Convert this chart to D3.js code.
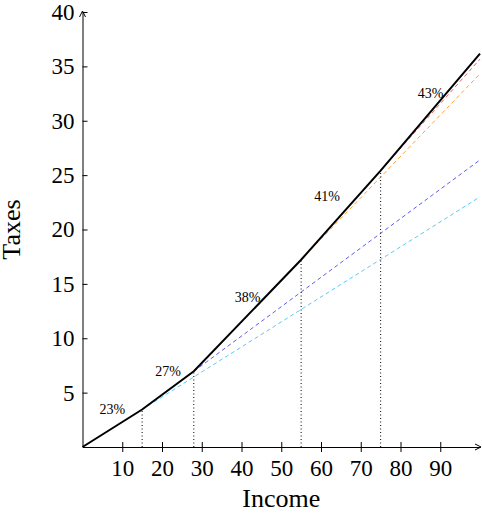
<!DOCTYPE html>
<html><head><meta charset="utf-8">
<script src="https://cdn.jsdelivr.net/npm/d3@7/dist/d3.min.js"></script>
<style>body{margin:0;background:#fff}text{font-family:"Liberation Serif","DejaVu Serif",serif}</style>
</head><body><svg id="c" width="482" height="515"></svg>
<script>
const brackets=[0,15,28,55,75,100];
const rates=[0.23,0.27,0.38,0.41,0.43];
const rateLabels=["23%","27%","38%","41%","43%"];
const labelPos=[[7.5,3.0],[21.5,6.5],[41.5,13.3],[61.5,22.6],[87.6,32.1]];
const dashColors=[null,"#33bbee","#3333ee","#ff8800","#ee3333"];
const xTicks=[10,20,30,40,50,60,70,80,90];
const yTicks=[5,10,15,20,25,30,35,40];

const svg=d3.select("#c");
const x=d3.scaleLinear().domain([0,100]).range([82.5,480]);
const y=d3.scaleLinear().domain([0,40]).range([447,12]);
const cum=[0];
for(let i=0;i<rates.length;i++)cum.push(cum[i]+(brackets[i+1]-brackets[i])*rates[i]);
for(let i=1;i<rates.length;i++){
  svg.append("line").attr("x1",x(brackets[i])).attr("y1",y(cum[i]))
   .attr("x2",x(100)).attr("y2",y(cum[i]+(100-brackets[i])*rates[i-1]))
   .attr("stroke",dashColors[i]).attr("stroke-width",0.8).attr("stroke-dasharray","4,3");
}
for(let i=1;i<brackets.length-1;i++){
  svg.append("line").attr("x1",x(brackets[i])).attr("x2",x(brackets[i]))
   .attr("y1",y(0)).attr("y2",y(cum[i])).attr("stroke","#000").attr("stroke-width",1).attr("stroke-dasharray","1,2.5");
}
svg.append("path").datum(brackets.map((b,i)=>[b,cum[i]]))
 .attr("d",d3.line().x(d=>x(d[0])).y(d=>y(d[1]))).attr("fill","none").attr("stroke","#000").attr("stroke-width",2);
rateLabels.forEach((t,i)=>svg.append("text").attr("x",x(labelPos[i][0])).attr("y",y(labelPos[i][1]))
 .attr("text-anchor","middle").attr("font-size",14).text(t));
const ax=svg.append("g").attr("transform",`translate(0,${y(0)})`).call(d3.axisBottom(x).tickValues(xTicks).tickSize(5).tickSizeOuter(0));
ax.selectAll("text").attr("font-size",23).attr("dy","0.9em").attr("fill","#000").style("font-family",'"Liberation Serif",serif');
const ay=svg.append("g").attr("transform",`translate(${x(0)},0)`).call(d3.axisLeft(y).tickValues(yTicks).tickSize(5).tickSizeOuter(0));
ay.selectAll("text").attr("font-size",23).attr("fill","#000").style("font-family",'"Liberation Serif",serif');
ay.selectAll(".tick line").attr("x2",5);
ax.selectAll(".tick line").attr("y1",-5);
svg.selectAll(".domain").attr("stroke","#000");
svg.append("path").attr("d",`M${x(100)-5},${y(0)-3}L${x(100)+1},${y(0)}L${x(100)-5},${y(0)+3}`).attr("fill","none").attr("stroke","#000");
svg.append("path").attr("d",`M${x(0)-3},${y(40)+5}L${x(0)},${y(40)-1}L${x(0)+3},${y(40)+5}`).attr("fill","none").attr("stroke","#000");
svg.append("text").attr("x",x(50)).attr("y",507).attr("text-anchor","middle").attr("font-size",26).text("Income");
svg.append("text").attr("transform",`translate(20,${y(20)}) rotate(-90)`).attr("text-anchor","middle").attr("font-size",26).text("Taxes");
</script></body></html>
